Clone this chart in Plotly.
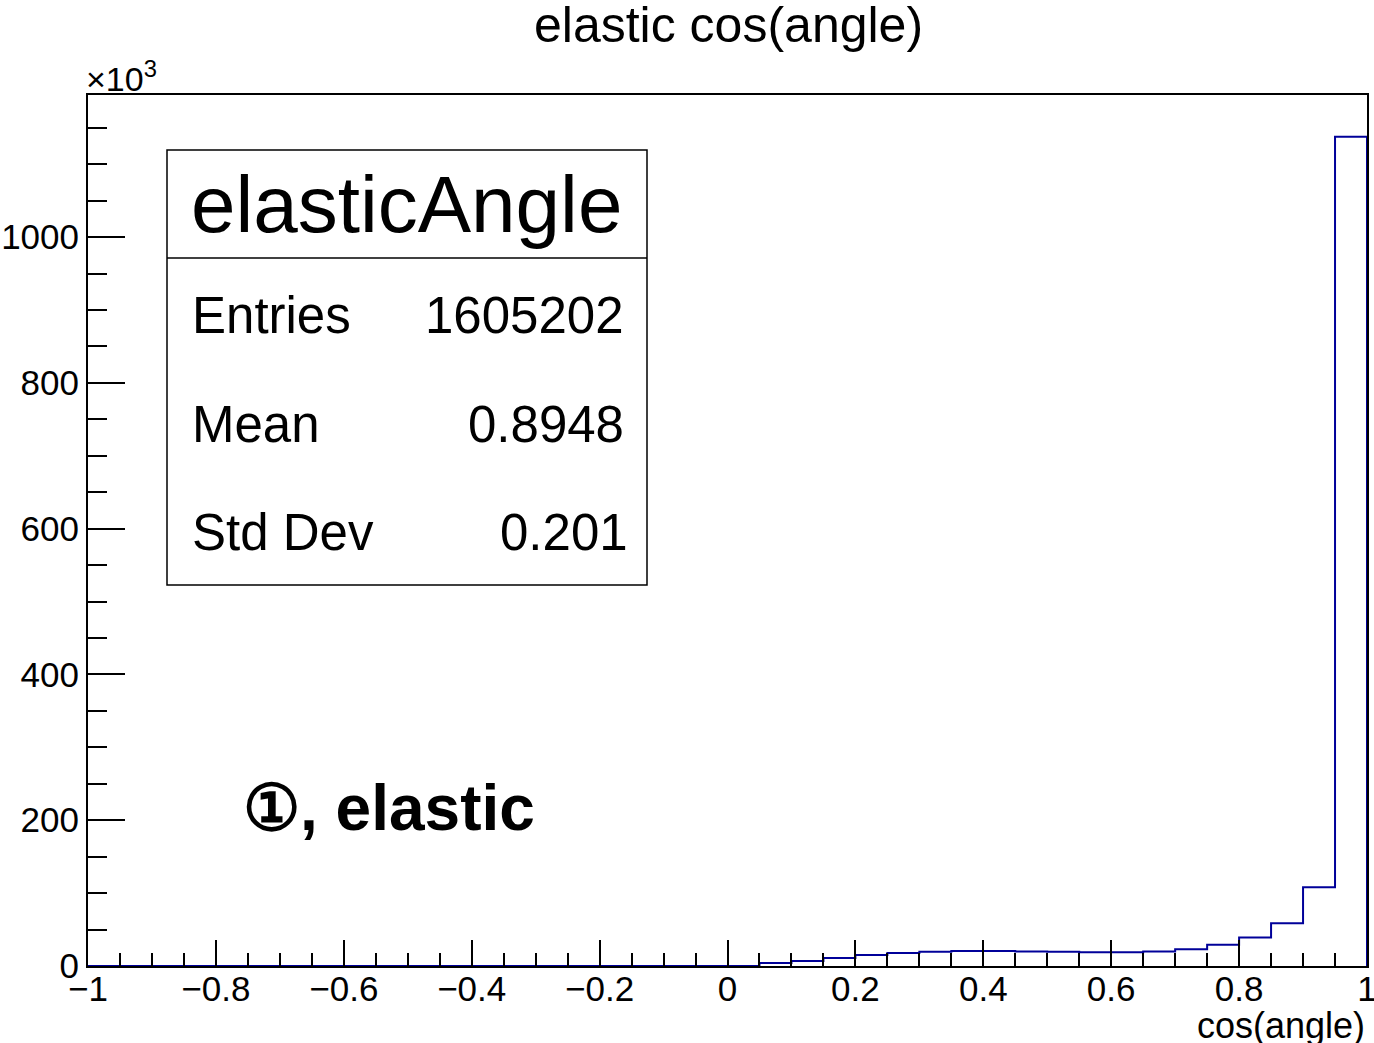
import numpy as np
import plotly.graph_objects as go

# ---- data (counts in units of 10^3 per bin of width 0.05) ----
bin_edges = [round(-1 + 0.05 * i, 2) for i in range(41)]
counts_k = [0] * 21 + [
    4.0, 7.0, 11.0, 15.0, 18.0, 19.5, 20.5, 20.5, 20.0, 19.5,
    18.8, 18.8, 20.0, 23.0, 29.0, 39.0, 58.5, 108.0, 1137.6,
]
x_ticks = [-1, -0.8, -0.6, -0.4, -0.2, 0, 0.2, 0.4, 0.6, 0.8, 1]
x_ticktext = ["\u22121", "\u22120.8", "\u22120.6", "\u22120.4", "\u22120.2", "0", "0.2", "0.4", "0.6", "0.8", "1"]
y_ticks = [0, 200, 400, 600, 800, 1000]
y_ticktext = ["0", "200", "400", "600", "800", "1000"]

title_text = "elastic cos(angle)"
x_title = "cos(angle)"
stats_name = "elasticAngle"
stats_rows = [("Entries", "1605202"), ("Mean", "0.8948"), ("Std Dev", "0.201")]
label_text = "\u2460, elastic"

FONT = "Liberation Sans, Arial, Helvetica, sans-serif"

# step outline
xs = [bin_edges[0]] + bin_edges[:-1] + [bin_edges[-1], bin_edges[-1]]
ys = [0] + counts_k + [counts_k[-1], 0]

fig = go.Figure()
fig.add_trace(go.Scatter(
    x=xs, y=ys, mode="lines", line=dict(color="#000099", width=2, shape="hv"),
    hoverinfo="skip", showlegend=False, cliponaxis=False,
))

# plot area geometry (pixels) for paper-coordinate placement
L, R, T, B = 88, 1367, 95, 966
W, H = R - L, B - T
px = lambda x: (x - L) / W
py = lambda y: (B - y) / H

fig.update_layout(
    width=1374, height=1043,
    margin=dict(l=L, r=1374 - R, t=T, b=1043 - B, pad=0, autoexpand=False),
    paper_bgcolor="white", plot_bgcolor="white",
    font=dict(family=FONT, color="black", size=35),
    showlegend=False,
)
fig.update_xaxes(
    range=[-1, 1], showgrid=False, zeroline=False, automargin=False,
    showline=True, linecolor="black", linewidth=2, mirror=True,
    ticks="inside", ticklen=26, tickwidth=2, tickcolor="black",
    tickvals=x_ticks, ticktext=x_ticktext, tickfont=dict(size=35),
    ticklabeloverflow="allow", ticklabelstandoff=-9,
    minor=dict(tickmode="linear", tick0=-1, dtick=0.05, ticks="inside",
               ticklen=13, tickwidth=2, tickcolor="black", showgrid=False),
)
fig.update_yaxes(
    range=[0, 1195], showgrid=False, zeroline=False, automargin=False,
    showline=True, linecolor="black", linewidth=2, mirror=True,
    ticks="inside", ticklen=37, tickwidth=2, tickcolor="black",
    tickvals=y_ticks, ticktext=y_ticktext, tickfont=dict(size=35),
    ticklabeloverflow="allow", ticklabelstandoff=0,
    minor=dict(tickmode="linear", tick0=0, dtick=50, ticks="inside",
               ticklen=19, tickwidth=2, tickcolor="black", showgrid=False),
)

# stats box
bx0, bx1, by0, by1, bdiv = 167, 647, 150, 585, 258
fig.add_shape(type="rect", xref="paper", yref="paper",
              x0=px(bx0), x1=px(bx1), y0=py(by1), y1=py(by0),
              line=dict(color="black", width=1.5), fillcolor="white", layer="above")
fig.add_shape(type="line", xref="paper", yref="paper",
              x0=px(bx0), x1=px(bx1), y0=py(bdiv), y1=py(bdiv),
              line=dict(color="black", width=1.5), layer="above")

ann = []
ann.append(dict(text=stats_name, x=px(406), y=py(204), xanchor="center", yanchor="middle",
                font=dict(size=80)))
row_y = [315, 425, 532]
row_right = [626, 626, 630]
for (k, v), yy, rr in zip(stats_rows, row_y, row_right):
    ann.append(dict(text=k, x=px(190), y=py(yy), xanchor="left", yanchor="middle", font=dict(size=51)))
    ann.append(dict(text=v, x=px(rr), y=py(yy), xanchor="right", yanchor="middle", font=dict(size=51)))

ann.append(dict(text="<b>" + label_text + "</b>", x=px(241), y=py(808), xanchor="left",
                yanchor="middle", font=dict(size=64)))
ann.append(dict(text=title_text, x=px(728), y=py(25), xanchor="center", yanchor="middle",
                font=dict(size=50)))
ann.append(dict(text="\u00d710<sup>3</sup>", x=px(84), y=py(76), xanchor="left", yanchor="middle",
                font=dict(size=34)))
ann.append(dict(text=x_title, x=px(1367), y=py(1025), xanchor="right", yanchor="middle",
                font=dict(size=36)))
for a in ann:
    a.update(xref="paper", yref="paper", showarrow=False)
fig.update_layout(annotations=ann)

fig.write_html("out.html")
